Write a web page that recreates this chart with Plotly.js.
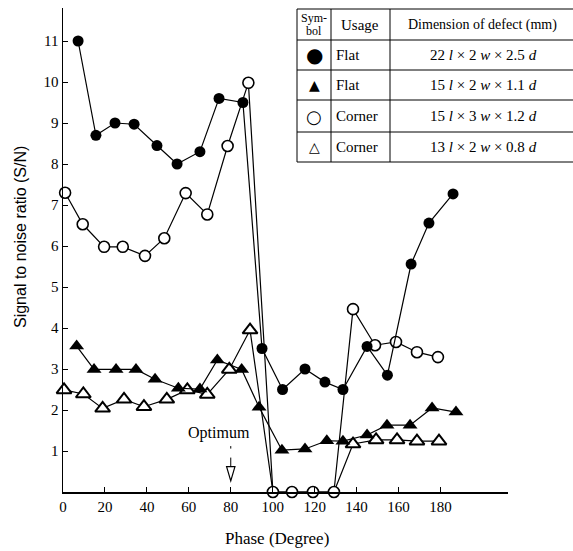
<!DOCTYPE html>
<html>
<head>
<meta charset="utf-8">
<script src="https://cdn.plot.ly/plotly-3.0.1.min.js"></script>
<style>html,body{margin:0;padding:0;background:#fff;}#chart{width:573px;height:551px;}</style>
</head>
<body>
<div id="chart"></div>
<script>
// ---- data ----
const flatLargeX = [7.2, 15.7, 24.8, 33.9, 44.8, 54.4, 65.3, 74.4, 85.8, 94.9, 104.7, 115.4, 124.9, 133.5, 145, 154.7, 166, 174.5, 186];
const flatLargeY = [11, 8.7, 9.0, 8.97, 8.45, 8.0, 8.3, 9.6, 9.5, 3.5, 2.5, 3.0, 2.68, 2.5, 3.55, 2.85, 5.56, 6.56, 7.27];

const flatSmallX = [6.5, 14.8, 25.3, 34.8, 43.9, 55.0, 65.3, 73.6, 85.2, 93.5, 104.4, 115.4, 125.8, 133.5, 145, 154.5, 165.5, 176, 187.4];
const flatSmallY = [3.56, 2.99, 2.99, 2.99, 2.75, 2.53, 2.51, 3.22, 2.99, 2.07, 1.02, 1.05, 1.25, 1.24, 1.39, 1.63, 1.63, 2.05, 1.95];

const cornerLargeX = [1.0, 9.4, 19.6, 28.5, 39.1, 48.3, 58.5, 68.8, 78.5, 88.4, 100.1, 109.2, 119.2, 129.2, 138.3, 148.8, 158.8, 168.8, 178.8];
const cornerLargeY = [7.3, 6.53, 5.98, 5.98, 5.76, 6.19, 7.29, 6.77, 8.44, 9.98, 0, 0, 0, 0, 4.46, 3.58, 3.66, 3.41, 3.29];

const cornerSmallX = [0.5, 9.7, 18.9, 29.1, 38.6, 49.5, 59.3, 68.8, 79.3, 89.2, 100.1, 109.2, 119.2, 129.2, 138.3, 149.3, 159.3, 168.8, 179.3];
const cornerSmallY = [2.49, 2.39, 2.04, 2.26, 2.08, 2.26, 2.49, 2.38, 2.99, 3.95, 0, 0, 0, 0, 1.17, 1.27, 1.27, 1.24, 1.24];

const xTicks = [0, 20, 40, 60, 80, 100, 120, 140, 160, 180];
const yTicks = [1, 2, 3, 4, 5, 6, 7, 8, 9, 10, 11];

const legendSymbols = ['●', '▲', '○', '△'];
const legendUsage = ['Flat', 'Flat', 'Corner', 'Corner'];
const legendDims = [
  '22 <i>l</i> × 2 <i>w</i> × 2.5 <i>d</i>',
  '15 <i>l</i> × 2 <i>w</i> × 1.1 <i>d</i>',
  '15 <i>l</i> × 3 <i>w</i> × 1.2 <i>d</i>',
  '13 <i>l</i> × 2 <i>w</i> × 0.8 <i>d</i>'
];
const optimumPhase = 80;

// ---- layout geometry (pixels of the 573x551 figure) ----
const W = 573, H = 551;
const L = 63, R = 508, T = 8, B = 492;
const px = v => (v - L) / (R - L);
const py = v => (B - v) / (B - T);
const serif = 'Liberation Serif, Times New Roman, serif';
const sans = 'Liberation Sans, Arial, sans-serif';

const lineStyle = {color: '#000', width: 1.2};
const traces = [
  {x: cornerSmallX, y: cornerSmallY, mode: 'lines+markers', cliponaxis: false,
   line: lineStyle,
   marker: {symbol: 'triangle-up', color: 'rgb(255,255,255)', opacity: 1, size: cornerSmallY.map(v => v === 0 ? 0 : 13), line: {width: 2, color: 'rgb(0,0,0)'}}},
  {x: flatSmallX, y: flatSmallY, mode: 'lines+markers', cliponaxis: false,
   line: lineStyle,
   marker: {symbol: 'triangle-up', color: '#000', size: 13}},
  {x: cornerLargeX, y: cornerLargeY, mode: 'lines+markers', cliponaxis: false,
   line: lineStyle,
   marker: {symbol: 'circle', color: '#fff', size: 11, line: {width: 1.6, color: '#000'}}},
  {x: flatLargeX, y: flatLargeY, mode: 'lines+markers', cliponaxis: false,
   line: lineStyle,
   marker: {symbol: 'circle', color: '#000', size: 11}}
];

const shapes = [];
const hline = (x0, x1, y) => shapes.push({type: 'line', xref: 'paper', yref: 'paper', x0: px(x0), x1: px(x1), y0: py(y), y1: py(y), line: {color: '#000', width: 1}});
const vline = (x, y0, y1) => shapes.push({type: 'line', xref: 'paper', yref: 'paper', x0: px(x), x1: px(x), y0: py(y0), y1: py(y1), line: {color: '#000', width: 1}});
[9, 40, 70, 100, 132, 162].forEach(y => hline(297, 573, y));
[297, 331, 390].forEach(x => vline(x, 9, 162));

// optimum arrow (dashed shaft, hollow head)
shapes.push({type: 'line', xref: 'x', yref: 'y', x0: optimumPhase, x1: optimumPhase, y0: 0.62, y1: 1.12, line: {color: '#000', width: 1, dash: 'dash'}});
shapes.push({type: 'path', xref: 'x', yref: 'y', path: `M ${optimumPhase - 2} 0.62 L ${optimumPhase + 2} 0.62 L ${optimumPhase} 0.27 Z`, fillcolor: '#fff', line: {color: '#000', width: 1.2}});

const annotations = [];
const ann = (text, x, y, size, opts = {}) => annotations.push(Object.assign({
  text, xref: 'paper', yref: 'paper', x: px(x), y: py(y), showarrow: false,
  font: {family: serif, size, color: '#000'}, xanchor: 'center', yanchor: 'middle'
}, opts));

ann('Sym-', 314, 18, 12);
ann('bol', 314, 31, 12);
ann('Usage', 360, 25, 15);
ann('Dimension of defect (mm)', 482, 25, 14);
const rowY = [55, 85, 116, 147];
const symSize = [20, 14, 18, 14];
rowY.forEach((y, i) => {
  ann(legendSymbols[i], 314, y, symSize[i], {font: {family: 'DejaVu Sans', size: symSize[i], color: '#000'}});
  ann(legendUsage[i], 334, y, 15, {xanchor: 'left'});
  ann(legendDims[i], 483, y, 15);
});

ann('Optimum', 219, 433, 16);
ann('Signal to noise ratio (S/N)', 20, 237, 16, {textangle: -90, font: {family: sans, size: 16, color: '#000'}});
ann('Phase (Degree)', 277, 538, 17);

const layout = {
  width: W, height: H,
  margin: {l: L, r: W - R, t: T, b: H - B, pad: 0},
  paper_bgcolor: '#fff', plot_bgcolor: '#fff',
  showlegend: false,
  xaxis: {
    range: [0, (R - L) / 2.097], tickvals: xTicks, ticktext: xTicks.map(String),
    ticks: 'inside', ticklen: 5, tickcolor: '#000', tickwidth: 1,
    showline: true, linecolor: '#000', linewidth: 1.5, showgrid: false, zeroline: false,
    tickfont: {family: serif, size: 15, color: '#000'}
  },
  yaxis: {
    range: [0, (B - T) / 41], tickvals: yTicks, ticktext: yTicks.map(String),
    ticks: 'inside', ticklen: 5, tickcolor: '#000', tickwidth: 1,
    showline: true, linecolor: '#000', linewidth: 1.5, showgrid: false, zeroline: false,
    tickfont: {family: serif, size: 15, color: '#000'}
  },
  shapes, annotations
};

Plotly.newPlot('chart', traces, layout, {staticPlot: true, displayModeBar: false});
</script>
</body>
</html>
